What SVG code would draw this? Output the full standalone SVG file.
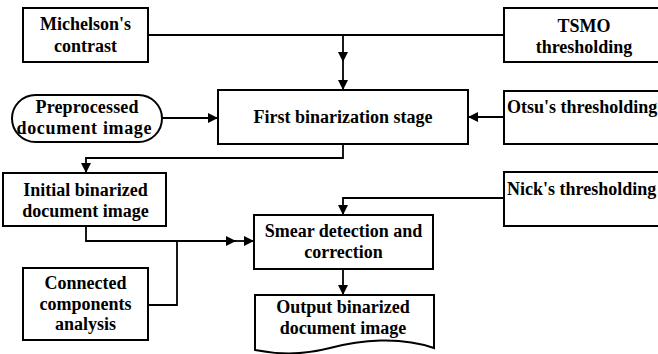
<svg xmlns="http://www.w3.org/2000/svg" width="658" height="354" viewBox="0 0 658 354">
<defs>
<style>
.box{fill:#fff;stroke:#000;stroke-width:2}
.ln{fill:none;stroke:#000;stroke-width:1.8}
.t{font-family:"Liberation Serif","Times New Roman",serif;font-weight:bold;font-size:18px;fill:#000;text-anchor:middle}
.ts{text-anchor:start}
</style>
<marker id="ah" viewBox="0 0 10 10" refX="10" refY="5" markerWidth="10" markerHeight="10" markerUnits="userSpaceOnUse" orient="auto">
<path d="M0,0 L10,5 L0,10 z" fill="#000"/>
</marker>
</defs>
<rect width="658" height="354" fill="#fff"/>
<g id="connectors">
<path class="ln" d="M148,35 H504"/>
<path class="ln" d="M343,35 V62" marker-end="url(#ah)"/>
<path class="ln" d="M343,62 V90" marker-end="url(#ah)"/>
<path class="ln" d="M162,118 H218" marker-end="url(#ah)"/>
<path class="ln" d="M504,117 H468" marker-end="url(#ah)"/>
<path class="ln" d="M343,144 V158 H86 V173" marker-end="url(#ah)"/>
<path class="ln" d="M86,226 V241 H236" marker-end="url(#ah)"/>
<path class="ln" d="M236,241 H254" marker-end="url(#ah)"/>
<path class="ln" d="M148,305 H177 V241"/>
<path class="ln" d="M504,198 H343 V215" marker-end="url(#ah)"/>
<path class="ln" d="M343,269 V295" marker-end="url(#ah)"/>
</g>
<g id="michelson">
<rect class="box" x="23" y="8" width="125" height="54"/>
<text class="t" x="85.5" y="30">Michelson's</text>
<text class="t" x="85.5" y="52">contrast</text>
</g>
<g id="tsmo">
<rect class="box" x="504" y="8" width="160" height="54"/>
<text class="t" x="584" y="32">TSMO</text>
<text class="t" x="584" y="53">thresholding</text>
</g>
<g id="preprocessed">
<rect class="box" x="12" y="95" width="150" height="47" rx="23.5" ry="23.5"/>
<text class="t" x="87" y="113" textLength="103" lengthAdjust="spacing">Preprocessed</text>
<text class="t" x="84" y="134" textLength="135" lengthAdjust="spacing">document image</text>
</g>
<g id="first">
<rect class="box" x="218" y="90" width="250" height="54"/>
<text class="t" x="343" y="123">First binarization stage</text>
</g>
<g id="otsu">
<rect class="box" x="504" y="91" width="160" height="53"/>
<text class="t ts" x="507" y="113">Otsu's thresholding</text>
</g>
<g id="initial">
<rect class="box" x="3" y="173" width="163" height="53"/>
<text class="t" x="85.5" y="196">Initial binarized</text>
<text class="t" x="85.5" y="217">document image</text>
</g>
<g id="nick">
<rect class="box" x="504" y="172" width="160" height="54"/>
<text class="t ts" x="507" y="195">Nick's thresholding</text>
</g>
<g id="smear">
<rect class="box" x="254" y="215" width="179" height="54"/>
<text class="t" x="343.5" y="237">Smear detection and</text>
<text class="t" x="343.5" y="258">correction</text>
</g>
<g id="connected">
<rect class="box" x="23" y="268" width="125" height="72"/>
<text class="t" x="85.5" y="289">Connected</text>
<text class="t" x="85.5" y="310">components</text>
<text class="t" x="85.5" y="330">analysis</text>
</g>
<g id="output">
<path class="box" d="M255,295 H434 V348 C400,336 360,340 330,348 C300,356 275,354 255,350 Z"/>
<text class="t" x="343" y="313">Output binarized</text>
<text class="t" x="343" y="334">document image</text>
</g>
</svg>
